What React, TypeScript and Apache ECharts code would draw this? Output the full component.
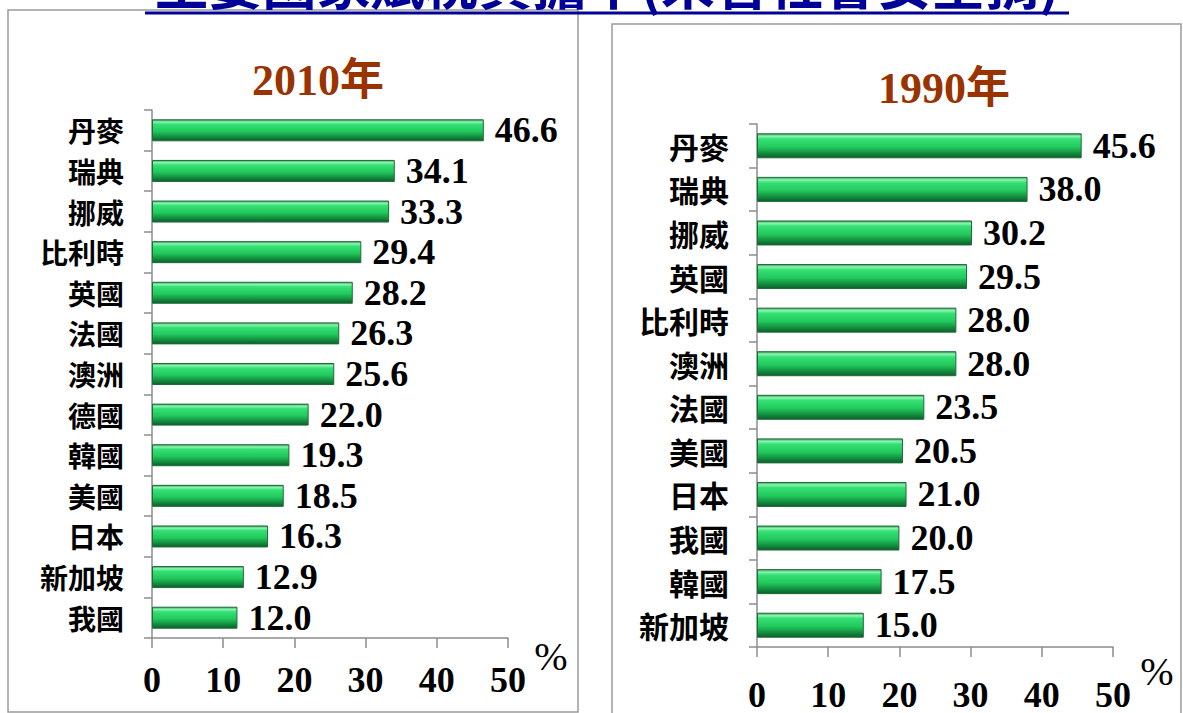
import React, { useEffect, useRef } from "react";
import * as echarts from "echarts";

const cats2010 = ["丹麥", "瑞典", "挪威", "比利時", "英國", "法國", "澳洲", "德國", "韓國", "美國", "日本", "新加坡", "我國"];
const vals2010 = [46.6, 34.1, 33.3, 29.4, 28.2, 26.3, 25.6, 22.0, 19.3, 18.5, 16.3, 12.9, 12.0];
const cats1990 = ["丹麥", "瑞典", "挪威", "英國", "比利時", "澳洲", "法國", "美國", "日本", "我國", "韓國", "新加坡"];
const vals1990 = [45.6, 38.0, 30.2, 29.5, 28.0, 28.0, 23.5, 20.5, 21.0, 20.0, 17.5, 15.0];
const xTicks = [0, 10, 20, 30, 40, 50];
const mainTitle = "主要國家賦稅負擔率(未含社會安全捐)";
const panelTitles = ["2010年", "1990年"];

const SERIF = '"Liberation Serif", "Times New Roman", serif';
const CJK = '"Noto Sans CJK TC", sans-serif';

const barGradient = new echarts.graphic.LinearGradient(0, 0, 0, 1, [
  { offset: 0, color: "#3f9a5c" },
  { offset: 0.1, color: "#8af5b0" },
  { offset: 0.22, color: "#35e074" },
  { offset: 0.55, color: "#22c95d" },
  { offset: 0.8, color: "#139040" },
  { offset: 1, color: "#0c5f2a" },
]);

function makeAxes(gridIndex: number, cats: string[], margin: number, catFont: number) {
  const xAxis = {
    gridIndex,
    type: "value",
    min: xTicks[0],
    max: xTicks[xTicks.length - 1],
    interval: 10,
    axisLine: { show: true, lineStyle: { color: "#8c8c8c", width: 1.5 } },
    axisTick: { show: true, length: 10, lineStyle: { color: "#8c8c8c", width: 1.5 } },
    splitLine: { show: false },
    axisLabel: {
      margin,
      color: "#000",
      fontFamily: SERIF,
      fontWeight: "bold",
      fontSize: 36,
    },
  };
  const yAxis = {
    gridIndex,
    type: "category",
    data: cats,
    inverse: true,
    axisLine: { show: true, lineStyle: { color: "#8c8c8c", width: 1.5 } },
    axisTick: { show: true, interval: 0, length: 8, lineStyle: { color: "#8c8c8c", width: 1.5 } },
    axisLabel: {
      interval: 0,
      margin: 28,
      color: "#000",
      fontFamily: CJK,
      fontWeight: "bold",
      fontSize: catFont,
    },
  };
  return { xAxis, yAxis };
}

function makeSeries(idx: number, vals: number[], barWidth: number) {
  return {
    type: "bar",
    xAxisIndex: idx,
    yAxisIndex: idx,
    data: vals,
    barWidth,
    itemStyle: { color: barGradient, borderColor: "#1e6b38", borderWidth: 1 },
    label: {
      show: true,
      position: "right",
      distance: 11,
      color: "#000",
      fontFamily: SERIF,
      fontWeight: "bold",
      fontSize: 36,
      formatter: (p: any) => Number(p.value).toFixed(1),
    },
  };
}

export default function App() {
  const ref = useRef<HTMLDivElement>(null);
  useEffect(() => {
    if (!ref.current) return;
    const chart = echarts.init(ref.current, null, { renderer: "svg" });
    const a = makeAxes(0, cats2010, 24, 28);
    const b = makeAxes(1, cats1990, 30, 30);
    chart.setOption({
      animation: false,
      backgroundColor: "#fff",
      grid: [
        { left: 152, top: 110, width: 356, height: 528 },
        { left: 757, top: 124, width: 356, height: 529 },
      ],
      xAxis: [a.xAxis, b.xAxis],
      yAxis: [a.yAxis, b.yAxis],
      series: [makeSeries(0, vals2010, 22), makeSeries(1, vals1990, 25)],
      graphic: [
        {
          type: "rect",
          shape: { x: 8, y: 10, width: 570, height: 702 },
          style: { fill: "none", stroke: "#9a9a9a", lineWidth: 1.5 },
          z: -1,
        },
        {
          type: "rect",
          shape: { x: 612, y: 24, width: 569, height: 720 },
          style: { fill: "none", stroke: "#9a9a9a", lineWidth: 1.5 },
          z: -1,
        },
        {
          type: "text",
          x: 607,
          y: 8,
          style: {
            text: mainTitle,
            fill: "#000099",
            font: `bold 54px ${CJK}`,
            textAlign: "center",
            textVerticalAlign: "bottom",
          },
        },
        {
          type: "line",
          shape: { x1: 145, y1: 13, x2: 1069, y2: 13 },
          style: { stroke: "#000099", lineWidth: 3 },
        },
        {
          type: "text",
          x: 318,
          y: 80,
          style: {
            text: panelTitles[0],
            fill: "#993300",
            font: `bold 44px ${SERIF}, ${CJK}`,
            textAlign: "center",
            textVerticalAlign: "middle",
          },
        },
        {
          type: "text",
          x: 944,
          y: 88,
          style: {
            text: panelTitles[1],
            fill: "#993300",
            font: `bold 44px ${SERIF}, ${CJK}`,
            textAlign: "center",
            textVerticalAlign: "middle",
          },
        },
        {
          type: "text",
          x: 551,
          y: 656,
          style: {
            text: "%",
            fill: "#000",
            font: `40px ${SERIF}`,
            textAlign: "center",
            textVerticalAlign: "middle",
          },
        },
        {
          type: "text",
          x: 1157,
          y: 671,
          style: {
            text: "%",
            fill: "#000",
            font: `40px ${SERIF}`,
            textAlign: "center",
            textVerticalAlign: "middle",
          },
        },
      ],
    });
    return () => chart.dispose();
  }, []);
  return (
    <div
      ref={ref}
      style={{ position: "absolute", left: 0, top: 0, width: 1183, height: 713 }}
    />
  );
}
